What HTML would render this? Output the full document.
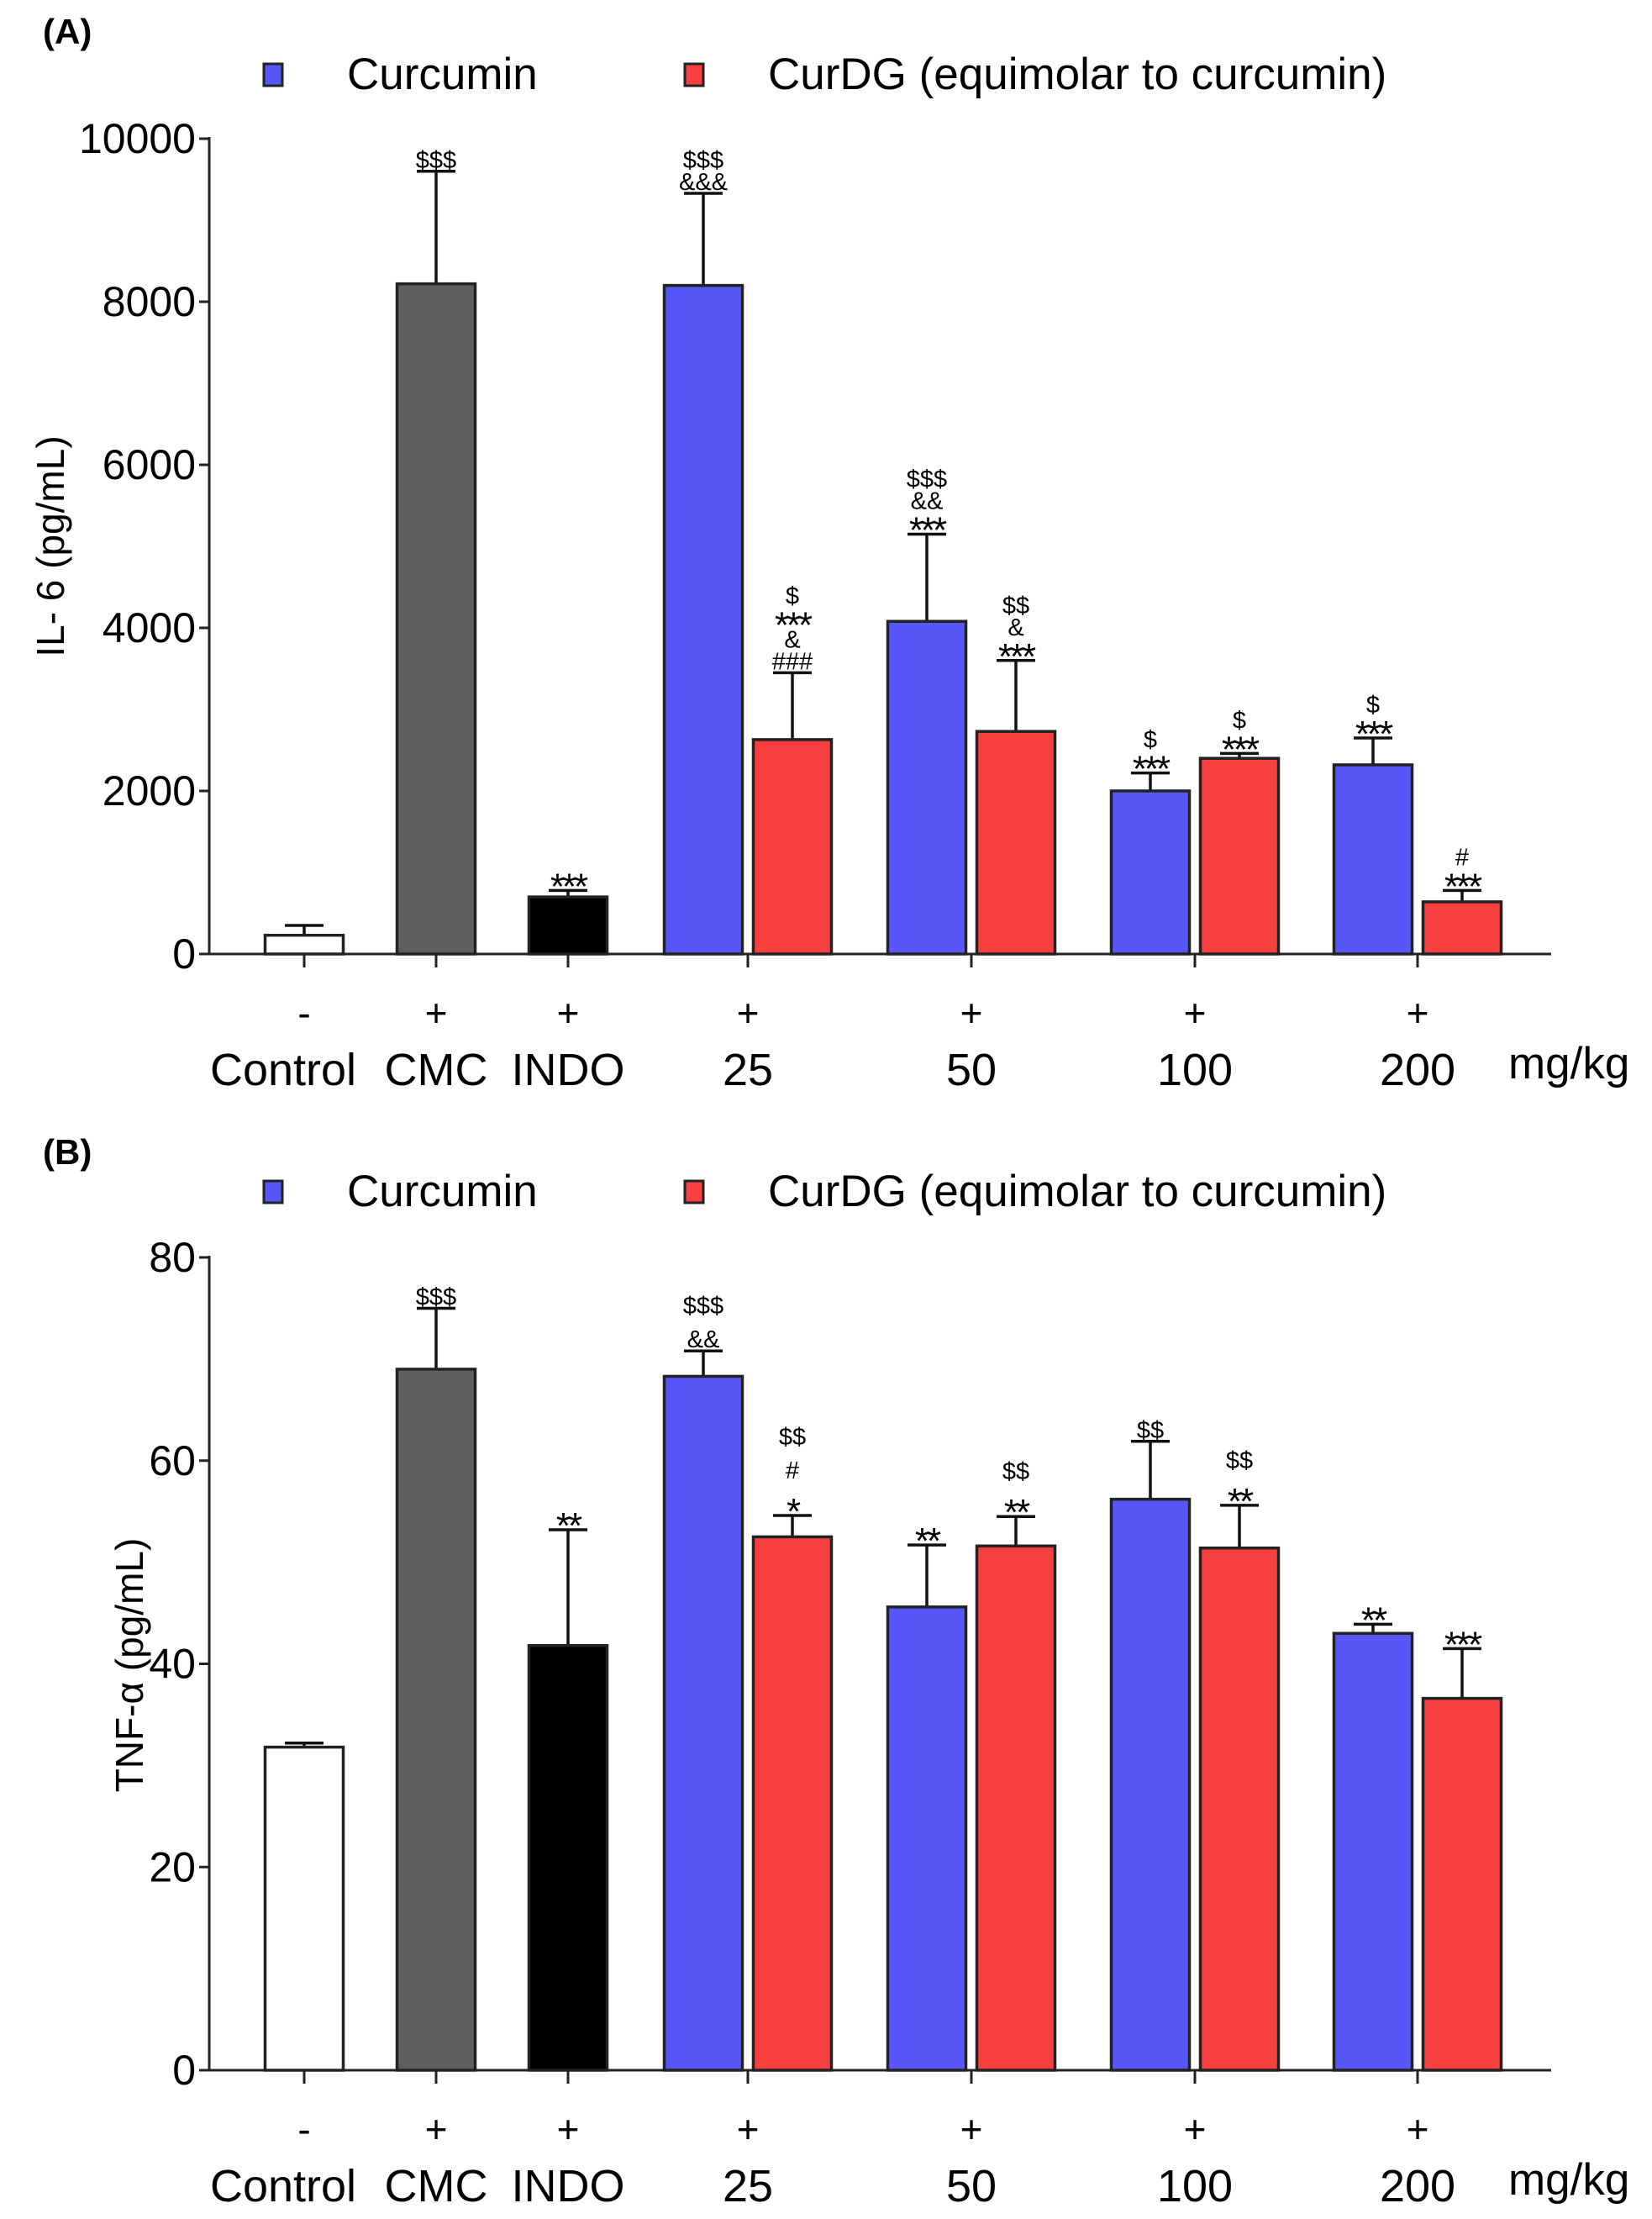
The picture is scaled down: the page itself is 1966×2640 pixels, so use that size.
<!DOCTYPE html>
<html><head><meta charset="utf-8"><style>
html,body{margin:0;padding:0;background:#fff;}
svg{display:block;font-family:"Liberation Sans",Arial,sans-serif;}
</style></head><body>
<svg id="fig" width="1966" height="2640" viewBox="0 0 1966 2640" xmlns="http://www.w3.org/2000/svg"></svg>
<script>
const groups = ["Control","CMC","INDO","25","50","100","200"];
const signs = ["-","+","+","+","+","+","+"];
// Panel A (IL-6)
const aSingle = [230, 8220, 700];
const aSingleErr = [350, 9600, 780];
const aCur = [8200, 4080, 2000, 2320];
const aCurErr = [9330, 5150, 2220, 2650];
const aDG = [2630, 2730, 2400, 640];
const aDGErr = [3450, 3600, 2460, 780];
const aTicks = [0, 2000, 4000, 6000, 8000, 10000];
const aSingleAnn = [[], ["$$$"], ["***"]];
const aCurAnn = [["$$$","&&&"], ["$$$","&&","***"], ["$","***"], ["$","***"]];
const aDGAnn = [["$","***","&","###"], ["$$","&","***"], ["$","***"], ["#","***"]];
// Panel B (TNF-a)
const bSingle = [31.8, 69, 41.8];
const bSingleErr = [32.2, 75, 53.2];
const bCur = [68.3, 45.6, 56.2, 43];
const bCurErr = [70.8, 51.7, 61.9, 43.9];
const bDG = [52.5, 51.6, 51.4, 36.6];
const bDGErr = [54.6, 54.5, 55.6, 41.5];
const bTicks = [0, 20, 40, 60, 80];
const bSingleAnn = [[], ["$$$"], ["**"]];
const bCurAnn = [["$$$","&&"], ["**"], ["$$"], ["**"]];
const bDGAnn = [["$$","#","*"], ["$$","**"], ["$$","**"], ["***"]];

const NS="http://www.w3.org/2000/svg";
const svg=document.getElementById('fig');
function el(tag, attrs, parent){const e=document.createElementNS(NS,tag);for(const k in attrs)e.setAttribute(k,attrs[k]);(parent||svg).appendChild(e);return e;}
function txt(s, attrs, parent){const t=el('text',attrs,parent);t.textContent=s;return t;}

const X0=249, X1=1846, BW=93;
const singleCenters=[362,519,676];
const pairCenters=[890,1156,1422,1687];
const labelX=[337,519,676,890,1156,1422,1687];

function panel(cfg){
  const g=el('g',{});
  
  
  const y=v=>cfg.y0 - (v/cfg.max)*(cfg.y0-cfg.yTop);
  const lab=txt(cfg.letter,{x:51,y:cfg.letterY,'font-size':42,'font-weight':'bold'},g);
  
  
  const lg=el('g',{},g);
  
  
  const s1=el('rect',{x:314,y:cfg.legY-30,width:22,height:26,fill:'#5757f7',stroke:'#222','stroke-width':3},lg);
  
  
  txt('Curcumin',{x:413,y:cfg.legY,'font-size':53},lg);
  const s2=el('rect',{x:815,y:cfg.legY-30,width:22,height:26,fill:'#f73f3f',stroke:'#222','stroke-width':3},lg);
  
  
  txt('CurDG (equimolar to curcumin)',{x:914,y:cfg.legY,'font-size':53},lg);
  const ax=el('g',{},g);
  
  
  el('line',{x1:X0,y1:cfg.yTop-2,x2:X0,y2:cfg.y0,stroke:'#222','stroke-width':3},ax);
  cfg.ticks.forEach(t=>{
    el('line',{x1:X0-12,y1:y(t),x2:X0,y2:y(t),stroke:'#222','stroke-width':3},ax);
    const tl=txt(String(t),{x:X0-16,y:y(t)+17,'font-size':50,'text-anchor':'end'},ax);
    
    
  });
  const yt=txt(cfg.ytitle,{x:0,y:0,'font-size':46,'text-anchor':'middle',transform:`translate(${cfg.ytX},${cfg.ytY}) rotate(-90)`},g);
  
  
  const xa=el('g',{},g);
  
  
  el('line',{x1:X0,y1:cfg.y0,x2:X1,y2:cfg.y0,stroke:'#222','stroke-width':3},xa);
  const tickX=singleCenters.concat(pairCenters);
  tickX.forEach((cx,i)=>{
    el('line',{x1:cx,y1:cfg.y0,x2:cx,y2:cfg.y0+16,stroke:'#222','stroke-width':3},xa);
    txt(signs[i],{x:cx,y:cfg.y0+86,'font-size':46,'text-anchor':'middle'},xa);
    const gl=txt(groups[i],{x:labelX[i],y:cfg.y0+156,'font-size':54,'text-anchor':'middle'},xa);
    
    
  });
  txt('mg/kg',{x:1795,y:cfg.y0+148,'font-size':53},xa);

  function bar(cx,v,e,fill,ann,name){
    const bg=el('g',{},g);
    
    
    const top=y(e);
    el('line',{x1:cx,y1:y(v),x2:cx,y2:top,stroke:'#111','stroke-width':3.5},bg);
    el('line',{x1:cx-23,y1:top,x2:cx+23,y2:top,stroke:'#111','stroke-width':3.5},bg);
    el('rect',{x:cx-BW/2,y:y(v),width:BW,height:cfg.y0-y(v),fill:fill,stroke:'#222','stroke-width':3.5},bg);
    const n=ann.length;
    ann.forEach((a,k)=>{
      const yy=top-4-(n-1-k)*cfg.annStep;
      const star=a.indexOf('*')>=0;
      const t=txt(a,{x:cx,y:star?yy+14:yy,'font-size':star?44:29,'text-anchor':'middle','letter-spacing':star?-3:0},bg);
      
      
    });
  }
  const sFill=['#ffffff','#5f5f5f','#000000'];
  cfg.single.forEach((v,i)=>bar(singleCenters[i],v,cfg.singleErr[i],sFill[i],cfg.singleAnn[i],'bar-'+groups[i].toLowerCase()));
  cfg.cur.forEach((v,i)=>bar(pairCenters[i]-53,v,cfg.curErr[i],'#5757f7',cfg.curAnn[i],'bar-curcumin-'+groups[i+3]));
  cfg.dg.forEach((v,i)=>bar(pairCenters[i]+53,v,cfg.dgErr[i],'#f73f3f',cfg.dgAnn[i],'bar-curdg-'+groups[i+3]));
}

panel({name:'panel-a-il6',letter:'(A)',letterY:52,legY:106,y0:1135,yTop:165,max:10000,ticks:aTicks,
  ytitle:'IL- 6 (pg/mL)',ytX:76,ytY:650,single:aSingle,singleErr:aSingleErr,cur:aCur,curErr:aCurErr,dg:aDG,dgErr:aDGErr,
  singleAnn:aSingleAnn,curAnn:aCurAnn,dgAnn:aDGAnn,annStep:26});
panel({name:'panel-b-tnf',letter:'(B)',letterY:1385,legY:1435,y0:2463,yTop:1496,max:80,ticks:bTicks,
  ytitle:'TNF-α (pg/mL)',ytX:170,ytY:1981,single:bSingle,singleErr:bSingleErr,cur:bCur,curErr:bCurErr,dg:bDG,dgErr:bDGErr,
  singleAnn:bSingleAnn,curAnn:bCurAnn,dgAnn:bDGAnn,annStep:40});
</script>
</body></html>
